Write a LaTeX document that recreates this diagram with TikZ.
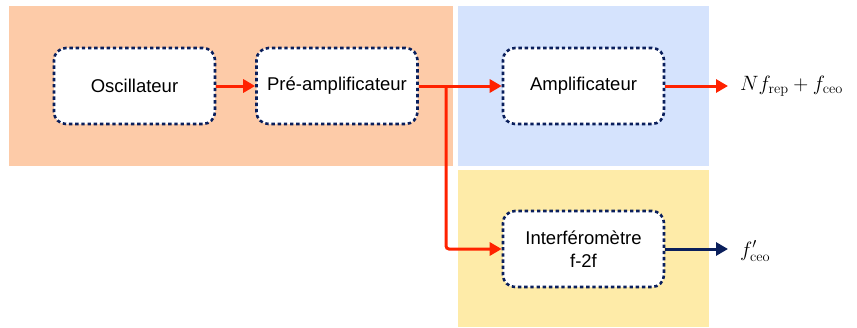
\documentclass[tikz,border=0pt]{standalone}
\usepackage[no-math]{fontspec}
\setmainfont{Liberation Sans}
\usetikzlibrary{arrows.meta}
\definecolor{cred}{HTML}{FF2200}
\definecolor{cnavy}{HTML}{0A1F5C}
\definecolor{corange}{HTML}{FDCBA8}
\definecolor{cblue}{HTML}{D5E3FD}
\definecolor{cyellow}{HTML}{FEEBA8}
\tikzset{
  blockbox/.style={draw=cnavy, fill=white, line width=2.6pt, dash pattern=on 3.4pt off 2.8pt,
    rounded corners=12pt, minimum width=161pt, minimum height=76pt, align=center,
    inner sep=0pt, font=\fontsize{18.5}{23}\selectfont},
  redarrow/.style={draw=cred, line width=3pt, -{Triangle[length=12pt,width=13pt]}},
  navyarrow/.style={draw=cnavy, line width=3pt, -{Triangle[length=12pt,width=13pt]}},
  mathlabel/.style={anchor=west, inner sep=0pt, font=\fontsize{20.8}{25}\selectfont},
}
\begin{document}
\begin{tikzpicture}[x=1pt,y=-1pt]
\useasboundingbox (0,0) rectangle (857,327);
\fill[corange] (9,6) rectangle (453,166);
\fill[cblue] (457.5,6) rectangle (709,166);
\fill[cyellow] (458,170) rectangle (709,327);
\node[blockbox] (osc) at (134.5,86) {Oscillateur};
\node[blockbox] (pre) at (337,86) {Pré-amplificateur};
\node[blockbox] (amp) at (583.5,86) {Amplificateur};
\node[blockbox] (int) at (583.5,249) {Interféromètre\\f-2f};
\coordinate (br) at (446,86);
\coordinate (out1) at (728,86);
\coordinate (out2) at (728,249);
\node[mathlabel] (l1) at (740,86) {$Nf_{\mathrm{rep}}+f_{\mathrm{ceo}}$};
\node[mathlabel] (l2) at (740,251) {$f'_{\mathrm{ceo}}$};
\draw[redarrow] (osc.east) -- (pre.west);
\draw[redarrow] (pre.east) -- (amp.west);
\draw[redarrow, rounded corners=3pt] (br) |- (int.west);
\draw[redarrow] (amp.east) -- (out1);
\draw[navyarrow] (int.east) -- (out2);
\end{tikzpicture}
\end{document}
